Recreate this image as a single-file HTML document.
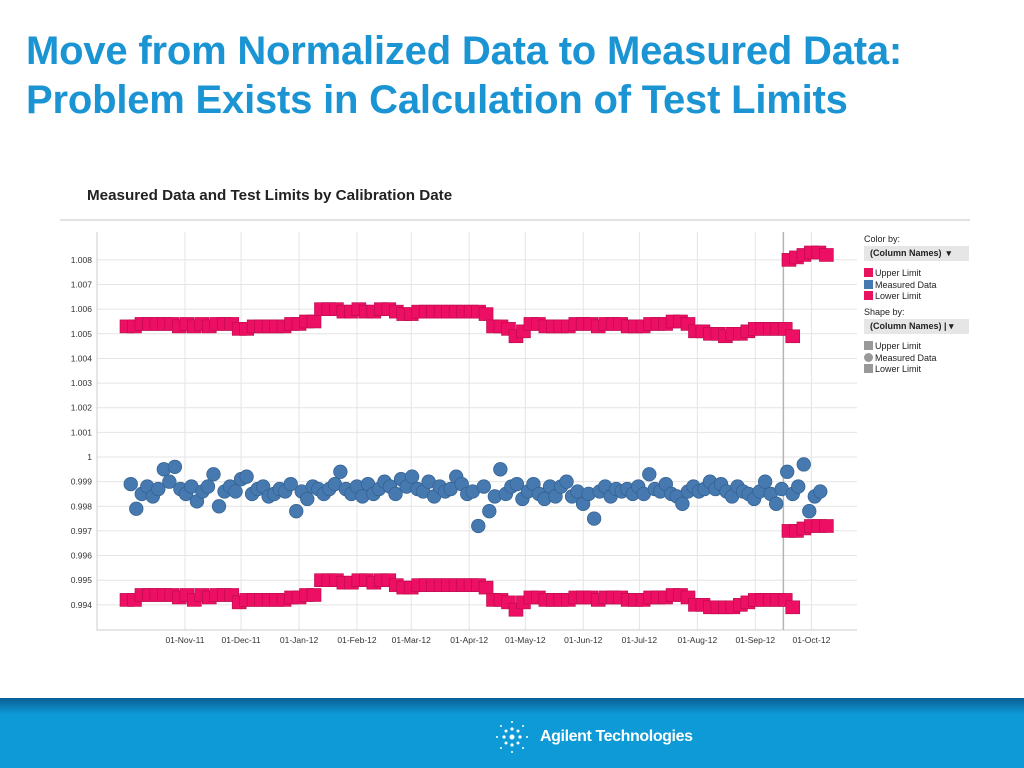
<!DOCTYPE html>
<html><head><meta charset="utf-8"><style>
body{margin:0;width:1024px;height:768px;background:#fff;font-family:"Liberation Sans",sans-serif;overflow:hidden;position:relative}
.t{position:absolute;left:26px;color:#1a94d2;font-weight:bold;font-size:40px;letter-spacing:-0.2px}
.footer{position:absolute;left:0;top:698px;width:1024px;height:70px;background:linear-gradient(180deg,#0a5f96 0,#0a6fa8 5px,#0d9ad6 16px,#0d9ad6 100%)}
.leg{position:absolute;font-size:9px;color:#222}
.sel{position:absolute;background:#e6e6e6;font-weight:bold;font-size:9px;color:#222;padding:2px 6px;width:93px}
.sw{display:inline-block;width:9px;height:9px;vertical-align:-1px;margin-right:2px}
</style></head><body>
<div class="t" style="top:29px">Move from Normalized Data to Measured Data:</div>
<div class="t" style="top:78px">Problem Exists in Calculation of Test Limits</div>
<div style="position:absolute;left:87px;top:187px;font-size:15.2px;font-weight:bold;color:#222">Measured Data and Test Limits by Calibration Date</div>
<div style="position:absolute;left:60px;top:219px;width:910px;height:2px;background:#e2e2e2"></div>
<svg id="chart" width="1024" height="768" style="position:absolute;left:0;top:0"></svg>
<div class="leg" style="left:864px;top:234px">Color by:</div>
<div class="sel" style="left:864px;top:246px">(Column Names) &nbsp;▾</div>
<div class="leg" style="left:864px;top:268px;line-height:11.5px">
<div><span class="sw" style="background:#e8135f"></span>Upper Limit</div>
<div><span class="sw" style="background:#4679b0"></span>Measured Data</div>
<div><span class="sw" style="background:#e8135f"></span>Lower Limit</div></div>
<div class="leg" style="left:864px;top:307px">Shape by:</div>
<div class="sel" style="left:864px;top:319px">(Column Names) | ▾</div>
<div class="leg" style="left:864px;top:341px;line-height:11.5px">
<div><span class="sw" style="background:#999"></span>Upper Limit</div>
<div><span class="sw" style="background:#999;border-radius:50%"></span>Measured Data</div>
<div><span class="sw" style="background:#999"></span>Lower Limit</div></div>
<div class="footer">
<svg width="40" height="40" style="position:absolute;left:492px;top:19px"><g fill="#fff">
<circle cx="20" cy="20" r="2.5"/><circle cx="20" cy="12" r="1.6"/><circle cx="20" cy="28" r="1.6"/><circle cx="12" cy="20" r="1.6"/><circle cx="28" cy="20" r="1.6"/><circle cx="14" cy="14" r="1.5"/><circle cx="26" cy="26" r="1.5"/><circle cx="26" cy="14" r="1.5"/><circle cx="14" cy="26" r="1.5"/><circle cx="20" cy="5" r="1"/><circle cx="20" cy="35" r="1"/><circle cx="5" cy="20" r="1"/><circle cx="35" cy="20" r="1"/><circle cx="9" cy="9" r="1"/><circle cx="31" cy="31" r="1"/><circle cx="31" cy="9" r="1"/><circle cx="9" cy="31" r="1"/></g></svg>
<div style="position:absolute;left:540px;top:30px;color:#fff;font-weight:bold;font-size:16px;letter-spacing:-0.4px">Agilent Technologies</div>
</div>
<script>
const yTicks=[1.008,1.007,1.006,1.005,1.004,1.003,1.002,1.001,1,0.999,0.998,0.997,0.996,0.995,0.994];
const xTickLabels=["01-Nov-11","01-Dec-11","01-Jan-12","01-Feb-12","01-Mar-12","01-Apr-12","01-May-12","01-Jun-12","01-Jul-12","01-Aug-12","01-Sep-12","01-Oct-12"];
const xTickDays=[31,61,92,123,152,183,213,244,274,305,336,366];
const upperVals=[1.0053,1.0053,1.0054,1.0054,1.0054,1.0054,1.0054,1.0053,1.0054,1.0053,1.0054,1.0053,1.0054,1.0054,1.0054,1.0052,1.0052,1.0053,1.0053,1.0053,1.0053,1.0053,1.0054,1.0054,1.0055,1.0055,1.0060,1.0060,1.0060,1.0059,1.0059,1.0060,1.0059,1.0059,1.0060,1.0060,1.0059,1.0058,1.0058,1.0059,1.0059,1.0059,1.0059,1.0059,1.0059,1.0059,1.0059,1.0059,1.0058,1.0053,1.0053,1.0052,1.0049,1.0051,1.0054,1.0054,1.0053,1.0053,1.0053,1.0053,1.0054,1.0054,1.0054,1.0053,1.0054,1.0054,1.0054,1.0053,1.0053,1.0053,1.0054,1.0054,1.0054,1.0055,1.0055,1.0054,1.0051,1.0051,1.0050,1.0050,1.0049,1.0050,1.0050,1.0051,1.0052,1.0052,1.0052,1.0052,1.0052,1.0049];
const lowerVals=[0.9942,0.9942,0.9944,0.9944,0.9944,0.9944,0.9944,0.9943,0.9944,0.9942,0.9944,0.9943,0.9944,0.9944,0.9944,0.9941,0.9942,0.9942,0.9942,0.9942,0.9942,0.9942,0.9943,0.9943,0.9944,0.9944,0.9950,0.9950,0.9950,0.9949,0.9949,0.9950,0.9950,0.9949,0.9950,0.9950,0.9948,0.9947,0.9947,0.9948,0.9948,0.9948,0.9948,0.9948,0.9948,0.9948,0.9948,0.9948,0.9947,0.9942,0.9942,0.9941,0.9938,0.9941,0.9943,0.9943,0.9942,0.9942,0.9942,0.9942,0.9943,0.9943,0.9943,0.9942,0.9943,0.9943,0.9943,0.9942,0.9942,0.9942,0.9943,0.9943,0.9943,0.9944,0.9944,0.9943,0.9940,0.9940,0.9939,0.9939,0.9939,0.9939,0.9940,0.9941,0.9942,0.9942,0.9942,0.9942,0.9942,0.9939];
const newUpperVals=[1.0080,1.0081,1.0082,1.0083,1.0083,1.0082];
const newLowerVals=[0.9970,0.9970,0.9971,0.9972,0.9972,0.9972];
const measuredVals=[0.9989,0.9979,0.9985,0.9988,0.9984,0.9987,0.9995,0.9990,0.9996,0.9987,0.9985,0.9988,0.9982,0.9986,0.9988,0.9993,0.9980,0.9986,0.9988,0.9986,0.9991,0.9992,0.9985,0.9987,0.9988,0.9984,0.9985,0.9987,0.9986,0.9989,0.9978,0.9986,0.9983,0.9988,0.9987,0.9985,0.9987,0.9989,0.9994,0.9987,0.9985,0.9988,0.9984,0.9989,0.9985,0.9987,0.9990,0.9988,0.9985,0.9991,0.9988,0.9992,0.9987,0.9986,0.9990,0.9984,0.9988,0.9986,0.9987,0.9992,0.9989,0.9985,0.9986,0.9972,0.9988,0.9978,0.9984,0.9995,0.9985,0.9988,0.9989,0.9983,0.9986,0.9989,0.9985,0.9983,0.9988,0.9984,0.9988,0.9990,0.9984,0.9986,0.9981,0.9985,0.9975,0.9986,0.9988,0.9984,0.9987,0.9986,0.9987,0.9985,0.9988,0.9985,0.9993,0.9987,0.9986,0.9989,0.9985,0.9984,0.9981,0.9986,0.9988,0.9986,0.9987,0.9990,0.9987,0.9989,0.9986,0.9984,0.9988,0.9986,0.9985,0.9983,0.9986,0.9990,0.9985,0.9981,0.9987,0.9994,0.9985,0.9988,0.9997,0.9978,0.9984,0.9986];
const svg=document.getElementById('chart');const NS='http://www.w3.org/2000/svg';
const L=97,R=857,T=232,B=630;
function xDay(d){return 127+d*1.87;}
function yVal(v){return 457-(v-1)*24640;}
function mk(tag,attrs,parent){const e=document.createElementNS(NS,tag);for(const k in attrs)e.setAttribute(k,attrs[k]);(parent||svg).appendChild(e);return e;}
yTicks.forEach(v=>{const y=yVal(v);
const g=mk('line',{x1:L,x2:R,y1:y,y2:y,stroke:'#e4e4e4'});


const t=mk('text',{x:92,y:y+3,'text-anchor':'end','font-size':'8.5','fill':'#333','font-family':'Liberation Sans, sans-serif'});t.textContent=String(v);

});
xTickDays.forEach((d,i)=>{const x=xDay(d);
const g=mk('line',{x1:x,x2:x,y1:T,y2:B,stroke:'#e4e4e4'});


const t=mk('text',{x:x,y:643,'text-anchor':'middle','font-size':'8.5','fill':'#333','font-family':'Liberation Sans, sans-serif'});t.textContent=xTickLabels[i];

});
const ax=mk('path',{d:`M${L} ${T}V${B}H${R}`,stroke:'#ccc',fill:'none'});


const ref=mk('line',{x1:xDay(351),x2:xDay(351),y1:T,y2:B,stroke:'#b5b5b5','stroke-width':1.5});


function sq(d,v,name){const r=mk('rect',{x:xDay(d)-7,y:yVal(v)-6.5,width:14,height:13,fill:'#ec0f63',stroke:'#b80a4a','stroke-width':0.6});

}
upperVals.forEach((v,i)=>sq(i*4,v,'upper-limit-marker'));
lowerVals.forEach((v,i)=>sq(i*4,v,'lower-limit-marker'));
newUpperVals.forEach((v,i)=>sq(354+i*4,v,'new-upper-limit-marker'));
newLowerVals.forEach((v,i)=>sq(354+i*4,v,'new-lower-limit-marker'));
measuredVals.forEach((v,i)=>{const c=mk('circle',{cx:xDay(2+i*2.95),cy:yVal(v),r:6.8,fill:'#4679b0',stroke:'#33608f','stroke-width':0.7});

});
</script>
</body></html>
